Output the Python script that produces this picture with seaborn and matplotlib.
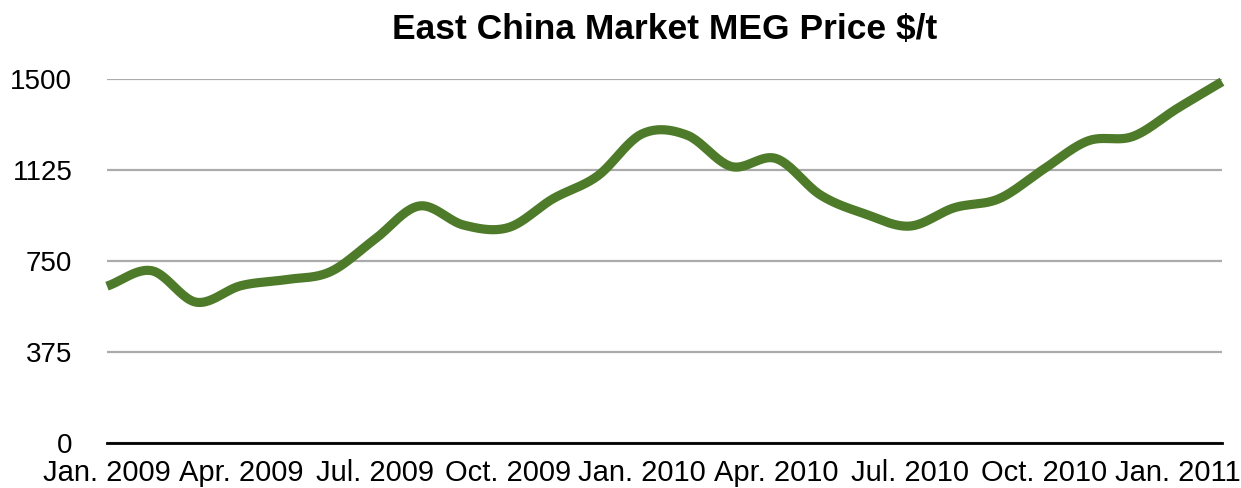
import numpy as np
import pandas as pd
import matplotlib
matplotlib.use("Agg")
import matplotlib.pyplot as plt
import seaborn as sns

# ---- data ----
month_index = list(range(26))  # Jan 2009 .. Feb 2011
prices = [646, 710, 580, 648, 673, 705, 839, 977, 898, 888, 1007, 1101, 1275,
          1270, 1140, 1173, 1022, 944, 894, 970, 1007, 1129, 1246, 1264, 1380, 1490]
tick_positions = [0, 3, 6, 9, 12, 15, 18, 21, 24]
tick_labels = ["Jan. 2009", "Apr. 2009", "Jul. 2009", "Oct. 2009", "Jan. 2010",
               "Apr. 2010", "Jul. 2010", "Oct. 2010", "Jan. 2011"]
y_ticks = [0, 375, 750, 1125, 1500]
title = "East China Market MEG Price $/t"


def catmull_rom(x, y, n=24):
    """Smooth rendering curve through the data points (display only)."""
    pts = np.column_stack([x, y]).astype(float)
    P = np.vstack([2 * pts[0] - pts[1], pts, 2 * pts[-1] - pts[-2]])
    out = []
    t = np.linspace(0, 1, n, endpoint=False)[:, None]
    for i in range(1, len(P) - 2):
        p0, p1, p2, p3 = P[i - 1], P[i], P[i + 1], P[i + 2]
        seg = 0.5 * ((2 * p1) + (-p0 + p2) * t + (2 * p0 - 5 * p1 + 4 * p2 - p3) * t ** 2
                     + (-p0 + 3 * p1 - 3 * p2 + p3) * t ** 3)
        out.append(seg)
    out.append(pts[-1][None, :])
    out = np.vstack(out)
    return out[:, 0], out[:, 1]


sx, sy = catmull_rom(month_index, prices)
df = pd.DataFrame({"month": sx, "price": sy})

sns.set_theme(style="white")
plt.rcParams["font.family"] = ["Liberation Sans", "DejaVu Sans"]

W, H = 1241, 488
fig = plt.figure(figsize=(W / 100, H / 100), dpi=100)
left, right = 107 / W, 1222 / W
bottom, top = 1 - 442.7 / H, 1 - 79.3 / H
ax = fig.add_axes([left, bottom, right - left, top - bottom])

sns.lineplot(data=df, x="month", y="price", ax=ax, color="#4e7b2a",
             linewidth=6.6, sort=False, estimator=None, clip_on=False,
             solid_capstyle="butt", zorder=5)

ax.set_xlim(0, 25)
ax.set_ylim(0, 1500)
ax.set_yticks(y_ticks)
ax.set_yticklabels([str(v) for v in y_ticks], fontsize=20)
ax.set_xticks(tick_positions)
ax.set_xticklabels(tick_labels, fontsize=21)
ax.set_xlabel("")
ax.set_ylabel("")
ax.yaxis.grid(True, color="#ababab", linewidth=1.6)
ax.xaxis.grid(False)
for s in ["top", "left", "right"]:
    ax.spines[s].set_visible(False)
ax.spines["bottom"].set_color("black")
ax.spines["bottom"].set_linewidth(2.0)
ax.spines["bottom"].set_zorder(4)
ax.tick_params(axis="y", length=0, pad=25, colors="black")
ax.tick_params(axis="x", length=0, pad=12, colors="black")

fig.text((left + right) / 2, 1 - 30 / H, title, ha="center", va="center",
         fontsize=25.5, fontweight="bold", color="black")

fig.savefig("out.png", dpi=100)
